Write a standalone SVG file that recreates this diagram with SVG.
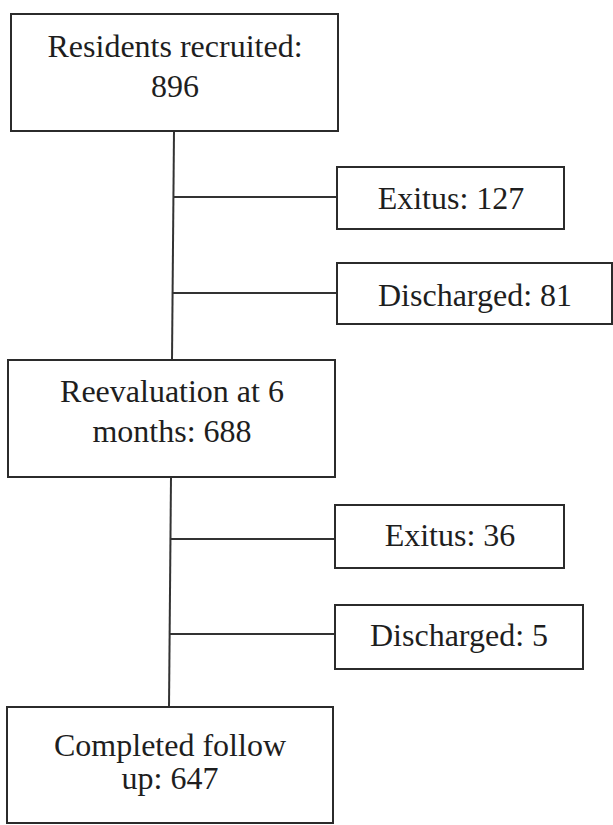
<svg xmlns="http://www.w3.org/2000/svg" width="613" height="825" viewBox="0 0 613 825">
<style>
.box{fill:#fff;stroke:#2b2b2b;stroke-width:2}
.t{font-family:"Liberation Serif","Times New Roman",serif;font-size:32px;fill:#1e1e1e;text-anchor:middle}
.c{stroke:#333;stroke-width:2;fill:none}
</style>
<rect width="613" height="825" fill="#fff"/>
<g id="connectors">
<line class="c" x1="174" y1="131" x2="172" y2="360"/>
<line class="c" x1="173" y1="197" x2="337" y2="197"/>
<line class="c" x1="173" y1="293" x2="337" y2="293"/>
<line class="c" x1="171" y1="477" x2="169" y2="707"/>
<line class="c" x1="170" y1="539" x2="335" y2="539"/>
<line class="c" x1="170" y1="634" x2="335" y2="634"/>
</g>
<g id="recruited">
<rect class="box" x="11" y="14" width="327" height="117"/>
<text class="t" x="175" y="57">Residents recruited:</text>
<text class="t" x="175" y="97">896</text>
</g>
<g id="exitus1">
<rect class="box" x="337" y="167" width="227" height="62"/>
<text class="t" x="451" y="209">Exitus: 127</text>
</g>
<g id="discharged1">
<rect class="box" x="337" y="263" width="275" height="61"/>
<text class="t" x="475" y="306">Discharged: 81</text>
</g>
<g id="reevaluation">
<rect class="box" x="8" y="360" width="327" height="117"/>
<text class="t" x="172" y="402">Reevaluation at 6</text>
<text class="t" x="172" y="442">months: 688</text>
</g>
<g id="exitus2">
<rect class="box" x="335" y="505" width="229" height="63"/>
<text class="t" x="450" y="546">Exitus: 36</text>
</g>
<g id="discharged2">
<rect class="box" x="335" y="605" width="248" height="64"/>
<text class="t" x="459" y="646">Discharged: 5</text>
</g>
<g id="completed">
<rect class="box" x="7" y="707" width="326" height="116"/>
<text class="t" x="170" y="756">Completed follow</text>
<text class="t" x="170" y="789">up: 647</text>
</g>
</svg>
